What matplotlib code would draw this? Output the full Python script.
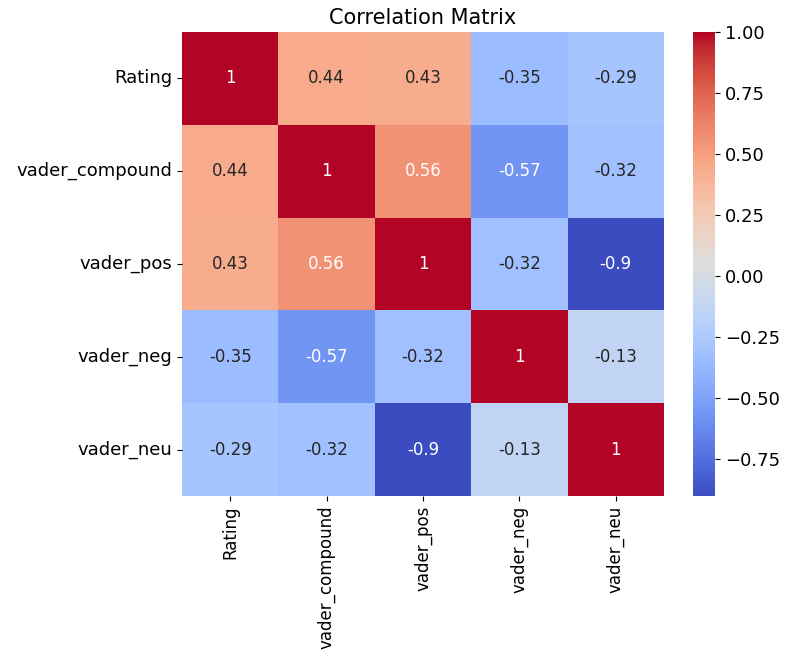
import numpy as np
import pandas as pd
import matplotlib
matplotlib.use('Agg')
import matplotlib.pyplot as plt
import seaborn as sns

labels = ['Rating', 'vader_compound', 'vader_pos', 'vader_neg', 'vader_neu']
corr_values = [
    [1.00, 0.44, 0.43, -0.35, -0.29],
    [0.44, 1.00, 0.56, -0.57, -0.32],
    [0.43, 0.56, 1.00, -0.32, -0.90],
    [-0.35, -0.57, -0.32, 1.00, -0.13],
    [-0.29, -0.32, -0.90, -0.13, 1.00],
]

corr = pd.DataFrame(corr_values, index=labels, columns=labels)

fig = plt.figure(figsize=(7.92, 6.57), dpi=100)
ax = fig.add_axes([0.2298, 0.2450, 0.6086, 0.7063])
cax = fig.add_axes([0.875, 0.2450, 0.0278, 0.7063])

sns.heatmap(corr, annot=True, cmap='coolwarm', ax=ax, cbar_ax=cax,
            annot_kws={'fontsize': 12})
ax.set_title('Correlation Matrix', fontsize=15)
ax.tick_params(axis='y', labelsize=13)
ax.tick_params(axis='x', labelsize=12)
cax.tick_params(labelsize=13)
plt.setp(ax.get_yticklabels(), rotation=0)
plt.setp(ax.get_xticklabels(), rotation=90)

fig.savefig('out.png', dpi=100)
plt.close(fig)
